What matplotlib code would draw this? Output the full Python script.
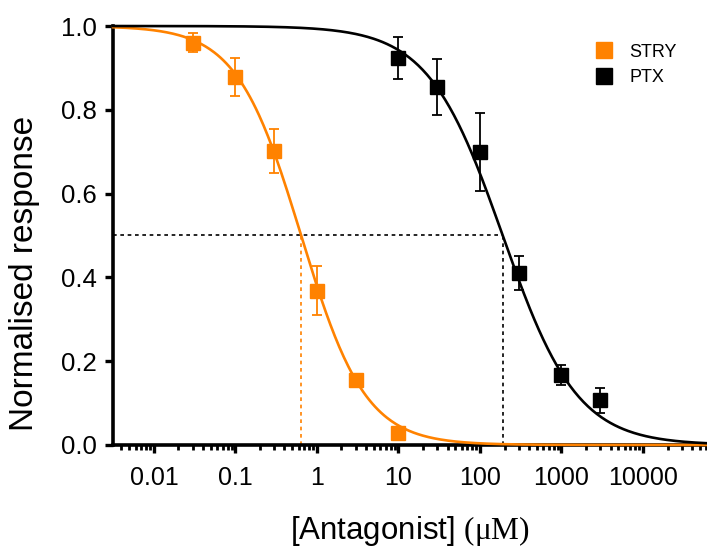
import numpy as np
import matplotlib
matplotlib.use("Agg")
import matplotlib.pyplot as plt
from matplotlib.lines import Line2D

plt.rcParams['font.family'] = ['Liberation Sans', 'DejaVu Sans']
plt.rcParams['mathtext.fontset'] = 'custom'
plt.rcParams['mathtext.rm'] = 'Liberation Serif'

# data
stry_conc = [0.03, 0.1, 0.3, 1, 3, 10]
stry_resp = [0.960, 0.878, 0.702, 0.368, 0.155, 0.029]
stry_err = [0.023, 0.045, 0.053, 0.058, 0.015, 0.010]

ptx_conc = [10, 30, 100, 300, 1000, 3000]
ptx_resp = [0.924, 0.854, 0.700, 0.410, 0.167, 0.107]
ptx_err = [0.050, 0.067, 0.093, 0.040, 0.023, 0.030]

# fitted Hill parameters (IC50 in uM, slope)
stry_ic50, stry_hill = 0.64, 1.1
ptx_ic50, ptx_hill = 190, 0.95

orange = '#ff8200'

def hill(x, ic50, n):
    return 1 / (1 + (x / ic50) ** n)

fig = plt.figure(figsize=(7.07, 5.5), dpi=100)
ax = fig.add_axes([0.160, 0.191, 0.840, 0.7617])

xmin, xmax = 10 ** -2.5, 10 ** 4.785
xs = np.logspace(np.log10(xmin), np.log10(xmax), 400)

ax.plot(xs, hill(xs, stry_ic50, stry_hill), color=orange, lw=1.9, clip_on=False, zorder=3)
ax.plot(xs, hill(xs, ptx_ic50, ptx_hill), color='black', lw=1.9, clip_on=False, zorder=3)

ax.errorbar(stry_conc, stry_resp, yerr=stry_err, fmt='s', color=orange, ms=10.5,
            capsize=3.8, elinewidth=1.3, capthick=1.3, zorder=4)
ax.errorbar(ptx_conc, ptx_resp, yerr=ptx_err, fmt='s', color='black', ms=10.5,
            capsize=3.8, elinewidth=1.3, capthick=1.3, zorder=4)

# IC50 guide lines
ax.plot([xmin, ptx_ic50], [0.5, 0.5], color='black', lw=1.2, ls=(0, (2.2, 2.2)))
ax.plot([ptx_ic50, ptx_ic50], [0, 0.5], color='black', lw=1.2, ls=(0, (2.2, 2.2)))
ax.plot([stry_ic50, stry_ic50], [0, 0.5], color=orange, lw=1.2, ls=(0, (2.2, 2.2)))

ax.set_xscale('log')
ax.set_xlim(xmin, xmax)
ax.set_ylim(0, 1.0)
ax.set_xticks([0.01, 0.1, 1, 10, 100, 1000, 10000])
ax.set_xticklabels(['0.01', '0.1', '1', '10', '100', '1000', '10000'])
ax.set_yticks([0, 0.2, 0.4, 0.6, 0.8, 1.0])
ax.set_yticklabels(['0.0', '0.2', '0.4', '0.6', '0.8', '1.0'])

for s in ['top', 'right']:
    ax.spines[s].set_visible(False)
for s in ['left', 'bottom']:
    ax.spines[s].set_linewidth(2.6)

ax.tick_params(axis='both', which='major', direction='out', length=6, width=2.4)
ax.tick_params(axis='x', which='minor', direction='out', length=3.5, width=2.0)
ax.tick_params(axis='x', labelsize=18, pad=9)
ax.tick_params(axis='y', labelsize=18.5, pad=6)

ax.set_ylabel('Normalised response', fontsize=24)
ax.yaxis.set_label_coords(-0.123, 0.41)
ax.set_xlabel(r'[Antagonist] $\mathrm{(μM)}$', fontsize=22.5, labelpad=17.5)

handles = [Line2D([], [], marker='s', ls='none', color=orange, ms=11),
           Line2D([], [], marker='s', ls='none', color='black', ms=11)]
fig.legend(handles, ['STRY', 'PTX'], loc='upper left', bbox_to_anchor=(0.819, 0.95),
           frameon=False, fontsize=13, handlelength=1.0, handletextpad=0.9,
           labelspacing=0.45)

fig.savefig('out.png', dpi=100)
